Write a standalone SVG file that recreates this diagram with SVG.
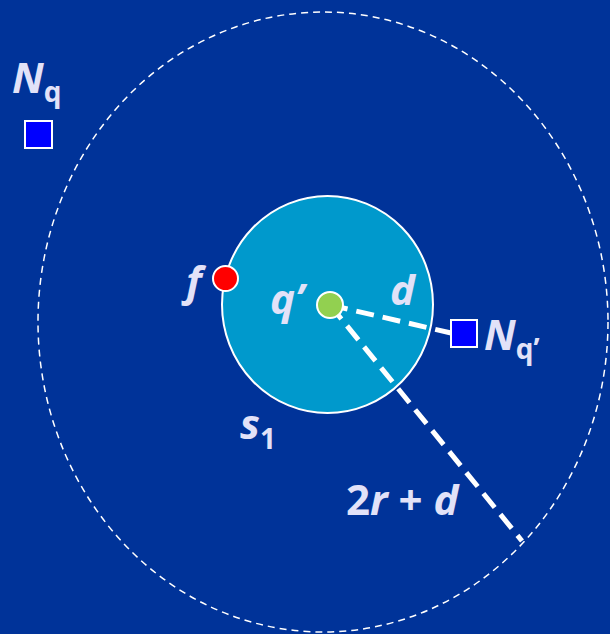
<svg xmlns="http://www.w3.org/2000/svg" width="610" height="634" viewBox="0 0 610 634">
<style>
.lbl{font-family:"Open Sans","DejaVu Sans",sans-serif;font-weight:bold;fill:#E2E2F8;font-size:42px}
.it{font-style:italic}
.sub{font-size:28px;font-style:normal}
.sq{fill:#0000FF;stroke:#FFFFFF;stroke-width:2}
.dash{stroke:#FFFFFF;stroke-width:5;stroke-dasharray:18 9;fill:none}
</style>
<rect width="610" height="634" fill="#003399"/>
<g id="region">
<ellipse cx="323" cy="322" rx="285" ry="310" fill="none" stroke="#FFFFFF" stroke-width="1.5" stroke-dasharray="7 5"/>
</g>
<g id="s1">
<ellipse cx="327.5" cy="304.5" rx="105.5" ry="108.5" fill="#0099CC" stroke="#FFFFFF" stroke-width="2"/>
</g>
<g id="connectors">
<line class="dash" x1="330" y1="305" x2="451" y2="333"/>
<line class="dash" x1="330" y1="305" x2="522" y2="541"/>
</g>
<g id="q">
<circle cx="330" cy="305" r="13" fill="#92D050" stroke="#FFFFFF" stroke-width="2"/>
</g>
<g id="f">
<circle cx="225.5" cy="278.5" r="12.5" fill="#FF0000" stroke="#FFFFFF" stroke-width="2"/>
</g>
<g id="Nq">
<rect class="sq" x="25" y="121" width="27" height="27"/>
</g>
<g id="Nq2">
<rect class="sq" x="451" y="320" width="26" height="27"/>
</g>
<g id="labels">
<text class="lbl it" x="12" y="93">N<tspan class="sub" dy="9">q</tspan></text>
<text class="lbl it" x="186" y="296">f</text>
<text class="lbl it" x="270" y="314">q’</text>
<text class="lbl it" x="390" y="305">d</text>
<text class="lbl it" x="484" y="350">N<tspan class="sub" dy="9">q’</tspan></text>
<text class="lbl it" x="240" y="439">s<tspan class="sub" dy="10">1</tspan></text>
<text class="lbl" x="346" y="515">2<tspan class="it">r</tspan> + <tspan class="it">d</tspan></text>
</g>
</svg>
